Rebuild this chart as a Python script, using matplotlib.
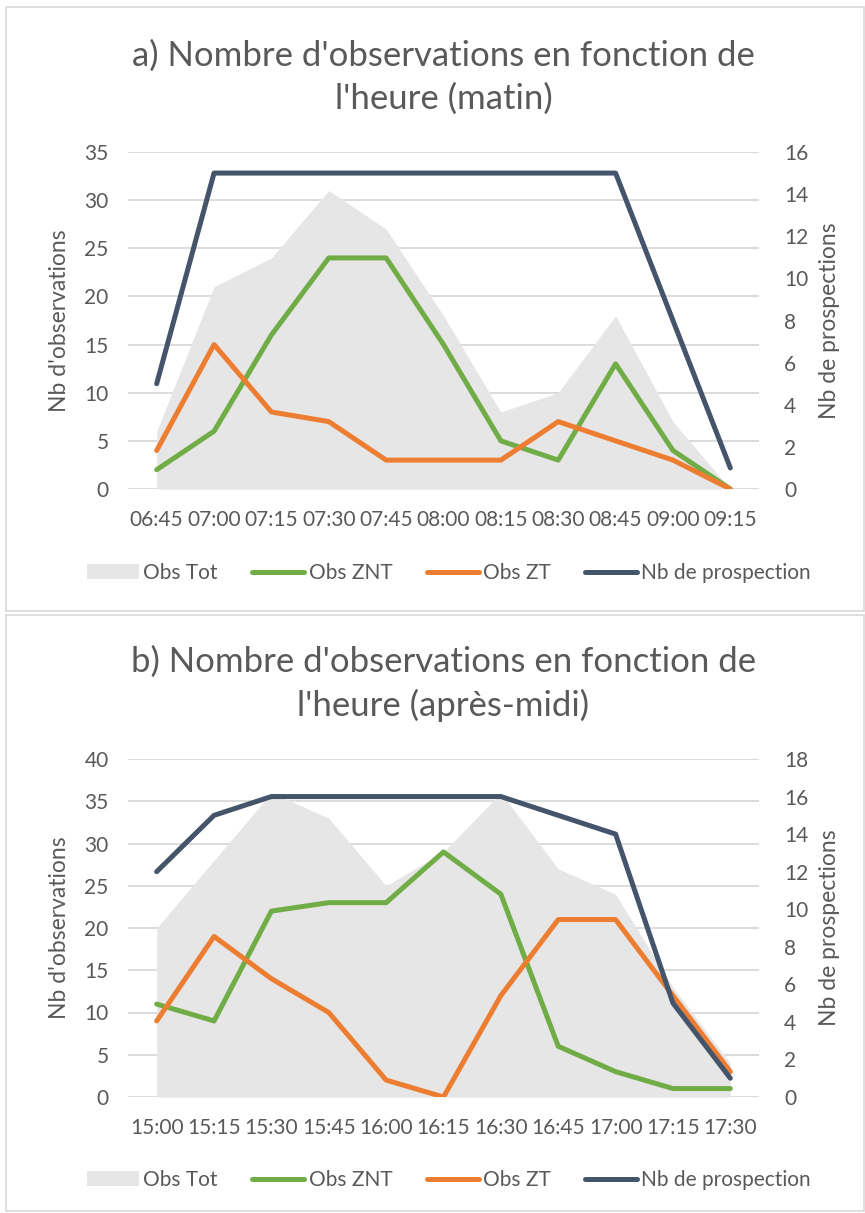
import matplotlib
matplotlib.use("Agg")
import matplotlib.pyplot as plt
from matplotlib.patches import Rectangle, Patch
from matplotlib.lines import Line2D
import numpy as np

plt.rcParams['font.family'] = ['Lato', 'DejaVu Sans']

# ---- data ----
times_matin = ["06:45", "07:00", "07:15", "07:30", "07:45", "08:00", "08:15", "08:30", "08:45", "09:00", "09:15"]
tot_matin = [6, 21, 24, 31, 27, 18, 8, 10, 18, 7, 0]
znt_matin = [2, 6, 16, 24, 24, 15, 5, 3, 13, 4, 0]
zt_matin = [4, 15, 8, 7, 3, 3, 3, 7, 5, 3, 0]
prosp_matin = [5, 15, 15, 15, 15, 15, 15, 15, 15, 8, 1]

times_am = ["15:00", "15:15", "15:30", "15:45", "16:00", "16:15", "16:30", "16:45", "17:00", "17:15", "17:30"]
tot_am = [20, 28, 36, 33, 25, 29, 36, 27, 24, 13, 4]
znt_am = [11, 9, 22, 23, 23, 29, 24, 6, 3, 1, 1]
zt_am = [9, 19, 14, 10, 2, 0, 12, 21, 21, 12, 3]
prosp_am = [12, 15, 16, 16, 16, 16, 16, 15, 14, 5, 1]

title_matin = "a) Nombre d'observations en fonction de\nl'heure (matin)"
title_am = "b) Nombre d'observations en fonction de\nl'heure (après-midi)"
legend_labels = ["Obs Tot", "Obs ZNT", "Obs ZT", "Nb de prospection"]

GREEN = "#70AD47"
ORANGE = "#ED7D31"
NAVY = "#44546A"
GRAYFILL = "#E7E6E6"
GRID = "#D9D9D9"
TXT = "#595959"

W, H = 865, 1213
fig = plt.figure(figsize=(W / 100, H / 100), dpi=100)

# panel borders
for (y0, y1) in [(7, 611), (615, 1211)]:
    fig.add_artist(Rectangle((6 / W, 1 - y1 / H), (864 - 6) / W, (y1 - y0) / H,
                             transform=fig.transFigure, fill=False,
                             edgecolor=GRID, lw=1.2))

TICK_FS = 15
LAB_FS = 16.5
TITLE_FS = 25
LW = 3.6


def draw(ax_top_px, ax_bot_px, times, tot, znt, zt, prosp, ymax_l, ymax_r, title, legend_y_px):
    left_px, right_px = 128, 759
    ax = fig.add_axes([left_px / W, 1 - ax_bot_px / H, (right_px - left_px) / W, (ax_bot_px - ax_top_px) / H])
    x = np.arange(len(times))
    ax.fill_between(x, tot, 0, color=GRAYFILL, lw=0, zorder=1)
    ax.plot(x, znt, color=GREEN, lw=LW, solid_capstyle='round', solid_joinstyle='round', zorder=3)
    ax.plot(x, zt, color=ORANGE, lw=LW, solid_capstyle='round', solid_joinstyle='round', zorder=3)
    ax.set_xlim(-0.5, len(times) - 0.5)
    ax.set_ylim(0, ymax_l)
    ax.set_yticks(np.arange(0, ymax_l + 1, 5))
    ax.set_xticks(x)
    ax.set_xticklabels(times)
    ax.set_axisbelow(True)
    ax.grid(axis='y', color=GRID, lw=1.3, zorder=0)
    for s in ax.spines.values():
        s.set_visible(False)
    ax.tick_params(axis='both', length=0, labelsize=TICK_FS, labelcolor=TXT)
    ax.tick_params(axis='y', pad=14)
    ax.tick_params(axis='x', pad=15)
    ax.set_ylabel("Nb d'observations", fontsize=LAB_FS, color=TXT)
    ax.yaxis.set_label_coords(-0.109, 0.5)
    ax.yaxis.label.set_va('center')

    ax2 = ax.twinx()
    ax2.plot(x, prosp, color=NAVY, lw=LW, solid_capstyle='round', solid_joinstyle='round', zorder=4)
    ax2.set_ylim(0, ymax_r)
    ax2.set_yticks(np.arange(0, ymax_r + 1, 2))
    for s in ax2.spines.values():
        s.set_visible(False)
    ax2.tick_params(axis='y', length=0, labelsize=TICK_FS, labelcolor=TXT, pad=18)
    ax2.set_ylabel("Nb de prospections", fontsize=LAB_FS, color=TXT)
    ax2.yaxis.set_label_coords(1.1125, 0.5)
    ax2.yaxis.label.set_va('center')

    ax.set_title(title, fontsize=TITLE_FS, color=TXT, pad=0, y=1.222, va='center', linespacing=1.38)

    handles = [Patch(facecolor=GRAYFILL, edgecolor='none'),
               Line2D([], [], color=GREEN, lw=LW, solid_capstyle='round'),
               Line2D([], [], color=ORANGE, lw=LW, solid_capstyle='round'),
               Line2D([], [], color=NAVY, lw=LW, solid_capstyle='round')]
    fig.legend(handles, legend_labels, loc='center', ncol=4,
               bbox_to_anchor=(449 / W, 1 - legend_y_px / H),
               frameon=False, fontsize=TICK_FS, labelcolor=TXT,
               handlelength=2.5, handleheight=0.7, handletextpad=0.2,
               columnspacing=1.65)
    return ax, ax2


draw(152, 489, times_matin, tot_matin, znt_matin, zt_matin, prosp_matin, 35, 16, title_matin, 573)
draw(759, 1097, times_am, tot_am, znt_am, zt_am, prosp_am, 40, 18, title_am, 1180)

fig.savefig("out.png", dpi=100)
